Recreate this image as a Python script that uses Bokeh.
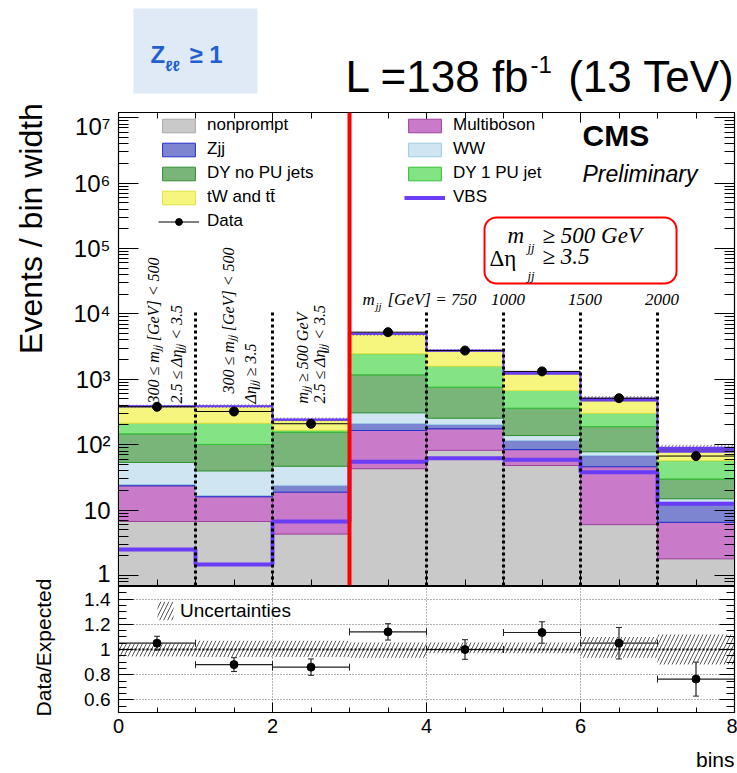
import math
import numpy as np
from bokeh.plotting import figure
from bokeh.layouts import column, row
from bokeh.models import (Range1d, LogTicker, SingleIntervalTicker, CustomJSTickFormatter,
                          LinearAxis, LogAxis, Legend, LegendItem, Label, BoxAnnotation, Span,
                          Whisker, ColumnDataSource, TeeHead)
from bokeh.embed import file_html
from bokeh.resources import INLINE

# ---------------- data ----------------
edges = [0, 1, 2, 3, 4, 5, 6, 7, 8]
nonprompt  = [6.7, 6.7, 4.3, 43, 82, 48, 6.0, 1.8]
multiboson = [16.8, 9.3, 14.5, 122, 93, 36, 40, 4.7]
zjj        = [1.1, 0.7, 5.0, 44, 26, 32, 22, 6.7]
ww         = [29, 23, 23, 98, 53, 22, 10, 1.7]
dy_nopu    = [93, 61, 109, 865, 504, 223, 111, 15]
dy_1pu     = [66, 112, 10, 1283, 827, 313, 113, 27]
tw_tt      = [172, 173, 71, 2450, 1108, 524, 163, 20]
vbs        = [2.5, 1.47, 6.7, 55, 62, 59, 38, 12.5]
data_vals  = [380, 322, 209, 5250, 2750, 1320, 514, 67]
data_err   = [20, 18, 15, 72, 52, 36, 23, 9]
ratio_vals = [1.05, 0.88, 0.86, 1.14, 1.00, 1.135, 1.05, 0.765]
ratio_err  = [0.055, 0.055, 0.065, 0.065, 0.078, 0.085, 0.125, 0.135]
unc_up     = [0.055, 0.07, 0.07, 0.055, 0.055, 0.055, 0.10, 0.12]
unc_dn     = [0.055, 0.06, 0.06, 0.065, 0.03, 0.03, 0.065, 0.12]
bin_lines  = [1, 2, 4, 5, 6, 7]
split_at   = 3
mjj_edges  = ["1000", "1500", "2000"]

lo = np.array(edges[:-1], dtype=float)
hi = np.array(edges[1:], dtype=float)
ctr = (lo + hi) / 2

SANS = "Liberation Sans"
SERIF = "Liberation Serif"
VBSC = "#6a3cf5"
LEFTW = 56
BL = 0.35  # baseline correction (fraction of font size)

# pixel helpers for annotation placement in the main frame
YLO, YHI = 0.703, 1.2e7
LLO, LHI = math.log10(YLO), math.log10(YHI)
def X(px): return (px - 118) / 77.0
def Y(py): return 10 ** (LLO + (585 - py) / 473.0 * (LHI - LLO))
def ident(v): return v

def lab(fig, px, py, text, size, font=SANS, style="normal", align="left",
        baseline="alphabetic", rotated=False, color="black", mx=ident, my=ident):
    if baseline == "alphabetic":
        if rotated:
            px = px - BL * size
        else:
            py = py - BL * size
    fig.add_layout(Label(x=mx(px), y=my(py), text=text, text_font=font, text_font_size=f"{size}px",
                         text_font_style=style, text_align=align, text_baseline=baseline,
                         angle=(math.pi / 2 if rotated else 0.0), text_color=color))

def no_labels(ax):
    ax.formatter = CustomJSTickFormatter(code="return '';")
    ax.major_label_text_font_size = "1px"
    ax.major_label_standoff = 0

def canvas_fig(w, h, xr_, yr_):
    f = figure(width=w, height=h, x_range=xr_, y_range=yr_,
               x_axis_location=None, y_axis_location=None, min_border=0,
               output_backend="svg", toolbar_location=None)
    f.grid.visible = False
    f.outline_line_color = None
    return f

xr = Range1d(0, 8)

# ---------------- header (text above the frame; frame aligned to x 118..734) ----------------
p0 = canvas_fig(737 - LEFTW, 112, Range1d(118, 734), Range1d(112, 0))
p0.add_layout(BoxAnnotation(left=133, right=257, top=8, bottom=93,
                            fill_color="#dfeaf6", fill_alpha=1, line_alpha=0))
lab(p0, 150, 62, "Z", 24, style="bold", color="#1f5fd0")
lab(p0, 165, 70, "\u2113\u2113", 15, style="bold", color="#1f5fd0")
lab(p0, 189, 62, "\u2265 1", 24, style="bold", color="#1f5fd0")
lab(p0, 345, 91, "L =138 fb", 44)
lab(p0, 530, 72, "-1", 24)
lab(p0, 734, 91, "(13 TeV)", 44, align="right")

# ---------------- left strip (y axis titles) ----------------
pL = canvas_fig(LEFTW, 773, Range1d(0, LEFTW), Range1d(773, 0))
lab(pL, 30, 228, "Events / bin width", 32, align="center", baseline="middle", rotated=True)
lab(pL, 43, 647, "Data/Expected", 21, align="center", baseline="middle", rotated=True)

# ---------------- main panel ----------------
p1 = figure(frame_width=616, frame_height=473, x_range=xr, y_range=Range1d(YLO, YHI),
            y_axis_type="log", output_backend="svg", toolbar_location=None,
            min_border_left=118 - LEFTW, min_border_right=3, min_border_top=0, min_border_bottom=1)
p1.grid.visible = False
p1.outline_line_color = "black"
p1.outline_line_width = 1.2

xb = p1.xaxis[0]
xb.ticker = SingleIntervalTicker(interval=2, num_minor_ticks=4)
no_labels(xb)
xb.major_tick_in = 12; xb.major_tick_out = 0
xb.minor_tick_in = 6; xb.minor_tick_out = 0

yl = p1.yaxis[0]
yl.ticker = LogTicker(num_minor_ticks=10)
yl.formatter = CustomJSTickFormatter(code="""
const e = Math.round(Math.log10(tick));
const s = ["\u2070","\u00b9","\u00b2","\u00b3","\u2074","\u2075","\u2076","\u2077","\u2078","\u2079"];
if (e == 0) return "1";
if (e == 1) return "10";
return "10" + s[e];
""")
yl.major_tick_in = 20; yl.major_tick_out = 0
yl.minor_tick_in = 10; yl.minor_tick_out = 0
yl.major_label_text_font = SANS
yl.major_label_text_font_size = "24px"
yl.major_label_text_color = "black"
yl.major_label_standoff = 8

top_ax = LinearAxis(ticker=SingleIntervalTicker(interval=2, num_minor_ticks=4),
                    major_tick_in=10, major_tick_out=0, minor_tick_in=6, minor_tick_out=0)
no_labels(top_ax)
p1.add_layout(top_ax, "above")
right_ax = LogAxis(ticker=LogTicker(num_minor_ticks=10), major_tick_in=20, major_tick_out=0,
                   minor_tick_in=10, minor_tick_out=0)
no_labels(right_ax)
p1.add_layout(right_ax, "right")

layers = [
    ("nonprompt", nonprompt, "#c9c9c9", "#a8a8a8"),
    ("Multiboson", multiboson, "#c97ac9", "#a040a0"),
    ("Zjj", zjj, "#7d84d0", "#2230cc"),
    ("WW", ww, "#cfe5f1", "#9ccbe2"),
    ("DY no PU jets", dy_nopu, "#79b579", "#2f8f2f"),
    ("DY 1 PU jet", dy_1pu, "#82e482", "#33c033"),
    ("tW and tt\u0304", tw_tt, "#f6f67e", "#e2e244"),
    ("VBS_stack", vbs, VBSC, VBSC),
]
cum = np.zeros(len(lo))
rend = {}
for name, vals, fc, lc in layers:
    bottom = cum.copy()
    cum = cum + np.array(vals, dtype=float)
    src = ColumnDataSource(dict(left=lo, right=hi, bottom=np.where(bottom > 0, bottom, 0.01), top=cum))
    rend[name] = p1.quad(left="left", right="right", bottom="bottom", top="top", source=src,
                         fill_color=fc, line_color=lc, line_width=1)
total = cum

band_src = ColumnDataSource(dict(left=lo, right=hi, bottom=total * (1 - np.array(unc_dn)),
                                 top=total * (1 + np.array(unc_up))))
p1.quad(left="left", right="right", bottom="bottom", top="top", source=band_src,
        fill_alpha=0, line_color=None, hatch_pattern="/", hatch_color="#555555",
        hatch_scale=7, hatch_weight=0.8)

r_vbs = p1.step(x=edges, y=list(vbs) + [vbs[-1]], mode="after", line_color=VBSC, line_width=4)
p1.step(x=edges, y=list(total) + [total[-1]], mode="after", line_color=VBSC, line_width=2)

dsrc = ColumnDataSource(dict(x=ctr, lo=lo, hi=hi, y=data_vals,
                             ylo=np.array(data_vals) - np.array(data_err),
                             yhi=np.array(data_vals) + np.array(data_err)))
r_dbar = p1.segment(x0="lo", x1="hi", y0="y", y1="y", source=dsrc, line_color="black", line_width=1)
p1.segment(x0="x", x1="x", y0="ylo", y1="yhi", source=dsrc, line_color="black", line_width=1)
r_dpts = p1.scatter(x="x", y="y", source=dsrc, size=9, color="black")

p1.segment(x0=bin_lines, x1=bin_lines, y0=[YLO] * len(bin_lines), y1=[1.1e4] * len(bin_lines),
           line_color="black", line_width=3, line_dash="3 3")
p1.add_layout(Span(location=split_at, dimension="height", line_color="red", line_width=4))

def mk_leg(items, loc):
    return Legend(items=items, location=loc, orientation="vertical", glyph_width=41,
                  glyph_height=17, label_height=17, spacing=4, label_standoff=8,
                  padding=0, margin=0, background_fill_alpha=0, border_line_alpha=0,
                  label_text_font=SANS, label_text_font_size="17px", label_text_color="black")
leg1 = mk_leg([LegendItem(label="nonprompt", renderers=[rend["nonprompt"]]),
               LegendItem(label="Zjj", renderers=[rend["Zjj"]]),
               LegendItem(label="DY no PU jets", renderers=[rend["DY no PU jets"]]),
               LegendItem(label="tW and tt\u0304", renderers=[rend["tW and tt\u0304"]]),
               LegendItem(label="Data", renderers=[r_dbar, r_dpts])], (40, 354))
leg2 = mk_leg([LegendItem(label="Multiboson", renderers=[rend["Multiboson"]]),
               LegendItem(label="WW", renderers=[rend["WW"]]),
               LegendItem(label="DY 1 PU jet", renderers=[rend["DY 1 PU jet"]]),
               LegendItem(label="VBS", renderers=[r_vbs])], (286, 378))
p1.add_layout(leg1)
p1.add_layout(leg2)

M = dict(mx=X, my=Y)
lab(p1, 582, 145, "CMS", 30, style="bold", **M)
lab(p1, 582, 182, "Preliminary", 23, style="italic", **M)

rot = [("300 \u2264 m\u2c7c\u2c7c [GeV] < 500", 159, 403),
       ("2.5 \u2264 \u0394\u03b7\u2c7c\u2c7c < 3.5", 182, 403),
       ("300 \u2264 m\u2c7c\u2c7c [GeV] < 500", 234, 393),
       ("\u0394\u03b7\u2c7c\u2c7c \u2265 3.5", 256, 403),
       ("m\u2c7c\u2c7c \u2265 500 GeV", 308, 403),
       ("2.5 \u2264 \u0394\u03b7\u2c7c\u2c7c < 3.5", 325, 403)]
for t, px, py in rot:
    lab(p1, px, py, t, 16, font=SERIF, style="italic", rotated=True, **M)

lab(p1, 362, 305, "m", 17, font=SERIF, style="italic", **M)
lab(p1, 375, 309, "jj", 11, font=SERIF, style="italic", **M)
lab(p1, 387, 305, "[GeV] = 750", 17, font=SERIF, style="italic", **M)
for t, e in zip(mjj_edges, [5, 6, 7]):
    lab(p1, 118 + (e + 0.06) * 77.0, 305, t, 17, font=SERIF, style="italic", align="center", **M)

p1.add_layout(BoxAnnotation(left=X(484), right=X(676), top=Y(217), bottom=Y(283),
                            fill_alpha=0, line_color="red", line_alpha=1, line_width=2,
                            border_radius=12))
lab(p1, 507, 243, "m", 23, font=SERIF, style="italic", **M)
lab(p1, 527, 252, "jj", 13, font=SERIF, style="italic", **M)
lab(p1, 542, 243, "\u2265  500 GeV", 23, font=SERIF, style="italic", **M)
lab(p1, 489, 266, "\u0394\u03b7", 23, font=SERIF, **M)
lab(p1, 527, 280, "jj", 13, font=SERIF, style="italic", **M)
lab(p1, 542, 264, "\u2265  3.5", 23, font=SERIF, style="italic", **M)

# ---------------- ratio panel ----------------
p2 = figure(frame_width=616, frame_height=126, x_range=xr, y_range=Range1d(0.5, 1.5),
            output_backend="svg", toolbar_location=None,
            min_border_left=118 - LEFTW, min_border_right=3, min_border_top=0, min_border_bottom=31)
p2.outline_line_color = "black"
p2.outline_line_width = 1.2
xa = p2.xaxis[0]
xa.ticker = SingleIntervalTicker(interval=2, num_minor_ticks=4)
xa.major_tick_in = 10; xa.major_tick_out = 0; xa.minor_tick_in = 5; xa.minor_tick_out = 0
xa.major_label_text_font = SANS; xa.major_label_text_font_size = "20px"
xa.major_label_text_color = "black"
xa.major_label_standoff = 6
ya = p2.yaxis[0]
ya.ticker = SingleIntervalTicker(interval=0.2, num_minor_ticks=4)
ya.formatter = CustomJSTickFormatter(code="return Math.abs(tick-1) < 1e-6 ? '1' : tick.toFixed(1);")
ya.major_tick_in = 15; ya.major_tick_out = 0; ya.minor_tick_in = 8; ya.minor_tick_out = 0
ya.major_label_text_font = SANS; ya.major_label_text_font_size = "19px"
ya.major_label_text_color = "black"
ya.major_label_standoff = 8
r2ax = LinearAxis(ticker=SingleIntervalTicker(interval=0.2, num_minor_ticks=4),
                  major_tick_in=15, major_tick_out=0, minor_tick_in=8, minor_tick_out=0)
no_labels(r2ax)
p2.add_layout(r2ax, "right")
p2.ygrid.ticker = SingleIntervalTicker(interval=0.2)
p2.grid.grid_line_color = "#666666"
p2.grid.grid_line_dash = "1 2"
p2.grid.grid_line_width = 1

rb = ColumnDataSource(dict(left=lo, right=hi, bottom=1 - np.array(unc_dn), top=1 + np.array(unc_up)))
r_band = p2.quad(left="left", right="right", bottom="bottom", top="top", source=rb, fill_alpha=0,
                 line_color=None, hatch_pattern="/", hatch_color="#555555", hatch_scale=8, hatch_weight=1)
p2.add_layout(Span(location=1.0, dimension="width", line_color="black", line_width=2, line_dash="2 2"))

leg3 = Legend(items=[LegendItem(label="Uncertainties", renderers=[r_band])], location=(37, 90),
              glyph_width=20, glyph_height=23, label_height=23, label_standoff=5, padding=0, margin=0,
              background_fill_alpha=0, border_line_alpha=0, label_text_font=SANS,
              label_text_font_size="19px", label_text_color="black")
p2.add_layout(leg3)

rs = ColumnDataSource(dict(x=ctr, lo=lo, hi=hi, y=ratio_vals,
                           ylo=np.array(ratio_vals) - np.array(ratio_err),
                           yhi=np.array(ratio_vals) + np.array(ratio_err)))
p2.add_layout(Whisker(source=rs, base="y", lower="lo", upper="hi", dimension="width",
                      line_color="#222222", line_width=1.2,
                      lower_head=TeeHead(size=7, line_color="#222222"),
                      upper_head=TeeHead(size=7, line_color="#222222")))
p2.add_layout(Whisker(source=rs, base="x", lower="ylo", upper="yhi", dimension="height",
                      line_color="#222222", line_width=1.2,
                      lower_head=TeeHead(size=6, line_color="#222222"),
                      upper_head=TeeHead(size=6, line_color="#222222")))
p2.scatter(x="x", y="y", source=rs, size=8, color="black")

# ---------------- footer ("bins") ----------------
pF = canvas_fig(737 - LEFTW, 30, Range1d(118, 734), Range1d(773, 743))
lab(pF, 734, 766, "bins", 21, align="right")

layout = row(pL, column(p0, p1, p2, pF, spacing=0), spacing=0)
with open("out.html", "w", encoding="utf-8") as f:
    f.write(file_html(layout, INLINE))
